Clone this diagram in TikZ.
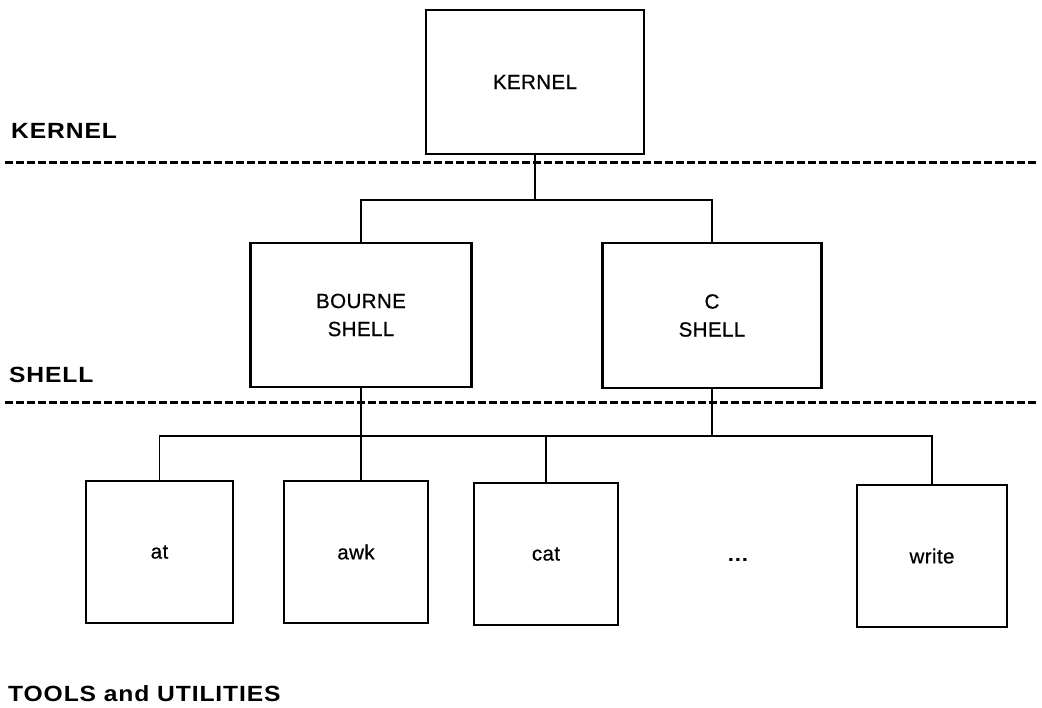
\documentclass[tikz,border=0pt]{standalone}
\usepackage{fontspec}
\setmainfont{Liberation Sans}
\newfontfamily\boxfont[LetterSpace=2, FakeBold=0.6]{Liberation Sans}
\newfontfamily\lblfont[LetterSpace=4, FakeStretch=1.12]{Liberation Sans Bold}
\begin{document}
\begin{tikzpicture}[x=1pt,y=-1pt,
  box/.style={draw, line width=2.2pt, inner sep=0pt, align=center,
    font=\boxfont\fontsize{20.5}{28}\selectfont},
  lbl/.style={anchor=west, inner sep=0pt, font=\lblfont\fontsize{22}{26}\selectfont},
  conn/.style={line width=1.7pt},
  sep/.style={line width=3pt, dash pattern=on 7.5pt off 3.5pt}]
\useasboundingbox (0,0) rectangle (1042,708);
\fill[white] (0,0) rectangle (1042,708);
% boxes
\node[box, minimum width=218pt, minimum height=144pt] (kernel) at (535,82) {KERNEL};
\node[box, minimum width=221pt, minimum height=144pt] (bourne) at (361,315) {BOURNE\\SHELL};
\node[box, minimum width=219pt, minimum height=145pt] (cshell) at (712,315.5) {C\\SHELL};
\node[box, minimum width=147pt, minimum height=142pt] (at) at (159.5,552) {at};
\node[box, minimum width=144pt, minimum height=142pt] (awk) at (356,552) {awk};
\node[box, minimum width=144pt, minimum height=142pt] (cat) at (546,554) {cat};
\node[box, minimum width=150pt, minimum height=142pt] (write) at (932,556) {write};
\node[anchor=base, inner sep=0pt, font=\lblfont\fontsize{20}{24}\selectfont] (dots) at (738,561) {...};
% layer labels
\node[lbl] (lkernel) at (11,131) {KERNEL};
\node[lbl] (lshell) at (9,375) {SHELL};
\node[lbl] (ltools) at (8,694) {TOOLS and UTILITIES};
% separators
\coordinate (s1a) at (5,163);
\coordinate (s1b) at (1037,163);
\coordinate (s2a) at (5,403);
\coordinate (s2b) at (1037,403);
\draw[sep] (s1a) -- (s1b);
\draw[sep] (s2a) -- (s2b);
% connectors
\coordinate (bus1) at (535,200);
\coordinate (bus2) at (712,436);
\draw[conn] (kernel.south) -- (bus1);
\draw[conn] (bourne.north) |- (bus1) -| (cshell.north);
\draw[conn] (cshell.south) -- (bus2);
\draw[conn] (at.north) |- (bus2) -| (write.north);
\draw[conn] (cat.north) -- (cat.north |- bus2);
\draw[conn] (bourne.south) -- (bourne.south |- awk.north);
\end{tikzpicture}
\end{document}
